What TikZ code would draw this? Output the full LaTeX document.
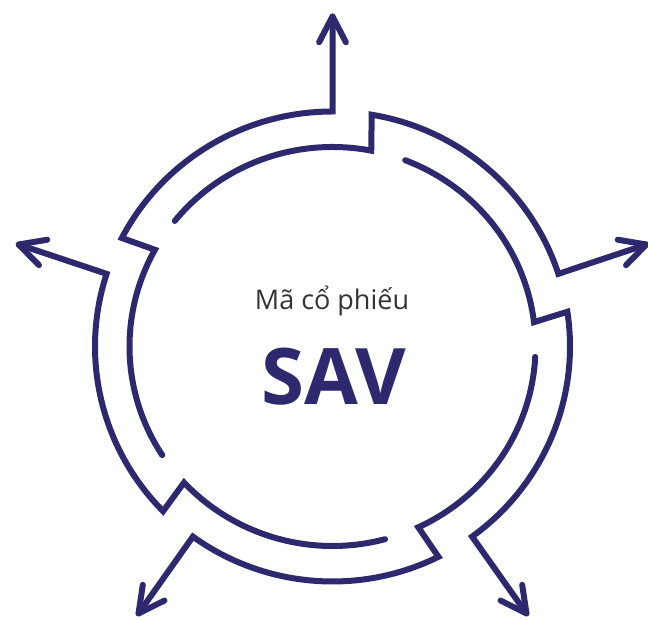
\documentclass[tikz,border=0pt]{standalone}
\usepackage{fontspec}
\setmainfont{Open Sans}
\usetikzlibrary{calc}
\definecolor{navy}{RGB}{46,41,110}
\definecolor{txtgray}{RGB}{51,51,51}
\begin{document}
\begin{tikzpicture}[x=1pt,y=1pt,
  ring/.style={draw=navy, line width=6pt, line cap=round, line join=miter},
  head/.style={draw=navy, line width=6pt, line cap=round, line join=round}]
\useasboundingbox (0,0) rectangle (648,620);
\coordinate (c) at (332.5,273.5);
\foreach \a [count=\i] in {18,90,162,234,306}{
  \coordinate (s\i) at ($(c)+({\a+123}:203pt and 199.5pt)$);
  \coordinate (o\i) at ($(c)+({\a+62.5}:237.5pt and 235pt)$);
  \coordinate (t\i) at ($(c)+({\a}:330pt)$);
  \draw[ring] (s\i) arc[start angle=\a+123, end angle=\a+61, x radius=203pt, y radius=199.5pt]
     -- (o\i) arc[start angle=\a+62.5, end angle=\a, x radius=237.5pt, y radius=235pt] -- (t\i);
  \draw[head] ($(t\i)+({\a+180-27.5}:29pt)$) -- (t\i) -- ($(t\i)+({\a+180+27.5}:29pt)$);
}
\node[font=\fontsize{27}{32}\selectfont, text=txtgray, anchor=base, inner sep=0pt] (lbl) at (332,310.5) {Mã cổ phiếu};
\node[font=\fontsize{78}{90}\selectfont\bfseries, text=navy, anchor=base, inner sep=0pt] (code) at (334,215) {SAV};
\end{tikzpicture}
\end{document}
